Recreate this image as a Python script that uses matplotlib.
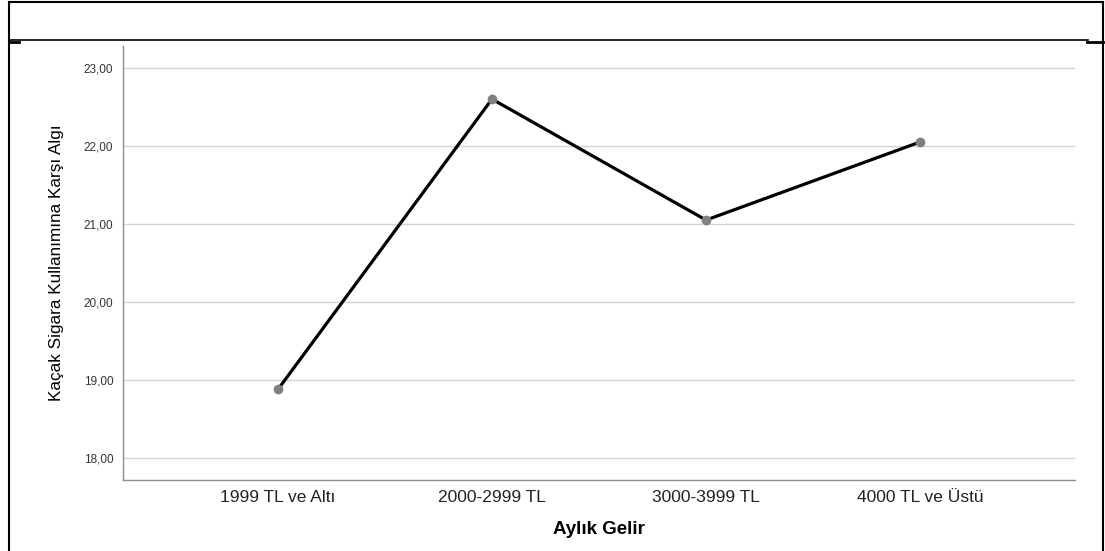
import matplotlib.pyplot as plt
from matplotlib.lines import Line2D

categories = ["1999 TL ve Altı", "2000-2999 TL", "3000-3999 TL", "4000 TL ve Üstü"]
values = [18.88, 22.60, 21.05, 22.05]
yticks = [18, 19, 20, 21, 22, 23]
ytick_labels = ["18,00", "19,00", "20,00", "21,00", "22,00", "23,00"]

W, H = 1105, 551
plt.rcParams['font.family'] = ['Liberation Sans', 'DejaVu Sans']
fig = plt.figure(figsize=(W / 100, H / 100), dpi=100)

# axes box in pixel coords: left 123, right 1075, top 46, bottom 480
ax = fig.add_axes([123 / W, 1 - 480 / H, (1075 - 123) / W, (480 - 46) / H])

x = list(range(len(categories)))
ax.plot(x, values, color='black', linewidth=2.3, zorder=3)
ax.plot(x, values, 'o', color='#808080', markersize=6, zorder=4)

ax.set_xlim(-0.724, 3.724)
ax.set_ylim(17.72, 23.28)
ax.set_yticks(yticks)
ax.set_yticklabels(ytick_labels, fontsize=8.5, color='#333333')
ax.set_xticks(x)
ax.set_xticklabels(categories, fontsize=12.5, color='#222222')
ax.tick_params(axis='y', length=0, pad=7)
ax.tick_params(axis='x', length=0, pad=7)

ax.grid(axis='y', color='#d4d4d4', linewidth=1)
ax.set_axisbelow(True)
for side in ['top', 'right']:
    ax.spines[side].set_visible(False)
for side in ['left', 'bottom']:
    ax.spines[side].set_color('#8c8c8c')
    ax.spines[side].set_linewidth(1)

ax.set_xlabel("Aylık Gelir", fontsize=13.5, fontweight='bold', labelpad=12)
ax.set_ylabel("Kaçak Sigara Kullanımına Karşı Algı", fontsize=12.3, labelpad=14)

# screenshot frame
def fline(x0, y0, x1, y1, lw):
    fig.add_artist(Line2D([x0 / W, x1 / W], [1 - y0 / H, 1 - y1 / H],
                          color='black', linewidth=lw, transform=fig.transFigure))

fline(9, 2, 1103, 2, 1.5)
fline(9, 2, 9, 551, 1.5)
fline(1103, 2, 1103, 551, 1.5)
fline(9, 40, 1088, 40, 1.2)
fline(1087, 42, 1103, 42, 2)
fline(9, 42, 19, 42, 2)

fig.savefig("out.png", dpi=100)
